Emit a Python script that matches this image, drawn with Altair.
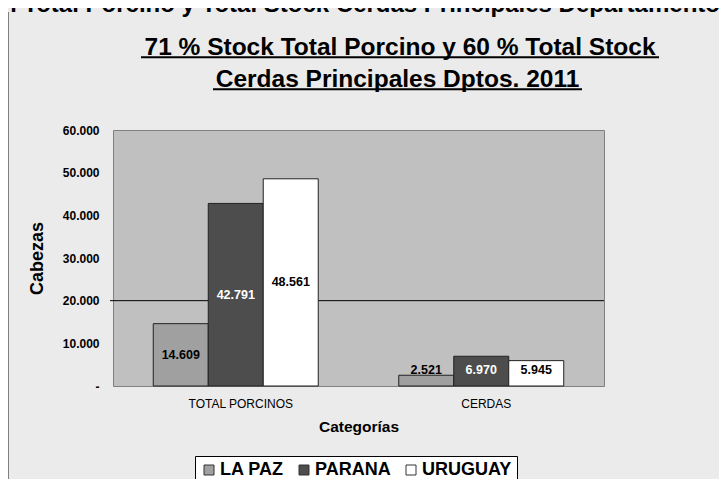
import altair as alt
import pandas as pd

# ---------------- data ----------------
categories = ["TOTAL PORCINOS", "CERDAS"]
departamentos = ["LA PAZ", "PARANA", "URUGUAY"]
total_porcinos = [14609, 42791, 48561]
cerdas = [2521, 6970, 5945]
bar_colors = ["#a0a0a0", "#4d4d4d", "#ffffff"]
label_colors = ["#000000", "#ffffff", "#000000"]
title_lines = ["71 % Stock Total Porcino y 60 % Total Stock",
               "Cerdas Principales Dptos. 2011"]
top_cut_text = "n Total Porcino y Total Stock Cerdas Principales Departamentos"
y_ticks = [0, 10000, 20000, 30000, 40000, 50000, 60000]
ref_value = 20000

rows = []
for cat, vals in zip(categories, [total_porcinos, cerdas]):
    for d, v, lc in zip(departamentos, vals, label_colors):
        rows.append({"categoria": cat, "departamento": d, "valor": v, "lcolor": lc})
df = pd.DataFrame(rows)

W, H = 491, 256
FONT = "Liberation Sans"
NB = "\u00a0"

x_enc = alt.X(
    "categoria:N", sort=categories,
    scale=alt.Scale(paddingInner=0, paddingOuter=0),
    axis=alt.Axis(title="Categorías", labelAngle=0, labelFontSize=12, labelFont=FONT,
                  labelColor="black", labelPadding=12, ticks=False, domain=False,
                  titleFontSize=15.5, titleFont=FONT, titleFontWeight="bold",
                  titleColor="black", titlePadding=10, labelOffset=5),
)
xoff_enc = alt.XOffset("departamento:N", sort=departamentos,
                       scale=alt.Scale(paddingOuter=0.732, paddingInner=0))
y_axis = alt.Axis(
    values=y_ticks,
    labelExpr="datum.value == 0 ? '-" + NB * 4 + "' : replace(format(datum.value, ',.0f'), ',', '.')",
    grid=False, ticks=False, domain=False, labelFontWeight="bold", labelFontSize=12,
    labelFont=FONT, labelColor="black", labelPadding=14, title="Cabezas",
    titleFontSize=18, titleFont=FONT, titleFontWeight="bold", titleColor="black",
    titlePadding=16,
)
y_scale = alt.Scale(domain=[0, 60000], nice=False, zero=True)

one = alt.Data(values=[{}])

ref_rule = alt.Chart(one).mark_rule(color="black", strokeWidth=1).encode(
    y=alt.datum(ref_value, scale=y_scale, axis=y_axis),
    x=alt.value(-3), x2=alt.value(W),
)

bars = alt.Chart(df).mark_bar(stroke="#222222", strokeWidth=1).encode(
    x=x_enc, xOffset=xoff_enc,
    y=alt.Y("valor:Q", scale=y_scale, axis=y_axis),
    color=alt.Color(
        "departamento:N", sort=departamentos,
        scale=alt.Scale(domain=departamentos, range=bar_colors),
        legend=alt.Legend(
            orient="none", legendX=82, legendY=326, direction="horizontal", title=None,
            symbolType="square", symbolSize=100, symbolStrokeColor="#333333",
            symbolStrokeWidth=1, symbolOpacity=1, labelFontSize=18, labelFontWeight="bold",
            labelFont=FONT, labelColor="black", fillColor="white", strokeColor="black",
            padding=5, columnPadding=11, labelOffset=2,
        ),
    ),
)

labels = alt.Chart(df).transform_calculate(
    label_y="max(datum.valor / 2, 3700)",
    label="replace(format(datum.valor, ',.0f'), ',', '.')",
).mark_text(fontSize=12.5, fontWeight="bold", font=FONT, baseline="middle").encode(
    x=x_enc, xOffset=xoff_enc,
    y=alt.Y("label_y:Q", scale=y_scale, axis=y_axis),
    text="label:N",
    color=alt.Color("lcolor:N", scale=None),
)

t1 = alt.Chart(one).mark_text(text=title_lines[0], fontSize=24.5, fontWeight="bold", font=FONT,
                              align="center", baseline="alphabetic", color="black").encode(
    x=alt.value(287), y=alt.value(-75))
t2 = alt.Chart(one).mark_text(text=title_lines[1], fontSize=24.5, fontWeight="bold", font=FONT,
                              align="center", baseline="alphabetic", color="black").encode(
    x=alt.value(284.5), y=alt.value(-43.5))
u1 = alt.Chart(one).mark_rule(color="black", strokeWidth=2).encode(
    x=alt.value(28), x2=alt.value(546), y=alt.value(-72.7))
u2 = alt.Chart(one).mark_rule(color="black", strokeWidth=2).encode(
    x=alt.value(100), x2=alt.value(469), y=alt.value(-40.7))
cut = alt.Chart(one).mark_text(text=top_cut_text, fontSize=24, fontWeight="bold", font=FONT,
                               align="left", baseline="alphabetic", color="black").encode(
    x=alt.value(-111), y=alt.value(-118))
border = alt.Chart(one).mark_rule(color="#808080", strokeWidth=1).encode(
    x=alt.value(-104.5), y=alt.value(-118), y2=alt.value(H + 93))

chart = alt.layer(ref_rule, bars, labels, t1, t2, u1, u2, cut, border).properties(
    width=W, height=H,
    autosize=alt.AutoSizeParams(type="none"),
    padding={"left": 105, "top": 122, "right": 115, "bottom": 93},
    background="#ebebeb",
).configure_view(fill="#c0c0c0", stroke="#808080", strokeWidth=1)

chart.save("out.html", embed_options={"renderer": "svg", "actions": False})
